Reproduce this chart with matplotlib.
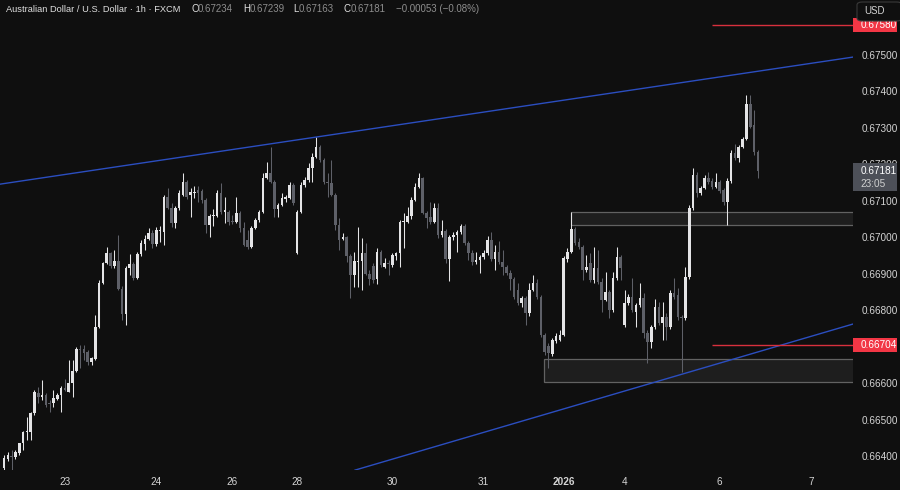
import matplotlib
matplotlib.use("Agg")
import numpy as np
import matplotlib.pyplot as plt
from matplotlib.patches import Rectangle, FancyBboxPatch

# AUD/USD 1h candles
opens = [
    0.66367, 0.66392, 0.66400, 0.66397, 0.66408, 0.66436, 0.66466, 0.66466, 0.66518, 0.66572,
    0.66562, 0.66567, 0.66545, 0.66545, 0.66556, 0.66567, 0.66586, 0.66575, 0.66600, 0.66633,
    0.66693, 0.66693, 0.66685, 0.66657, 0.66666, 0.66753, 0.66874, 0.66929, 0.66956, 0.66920,
    0.66934, 0.66858, 0.66789, 0.66915, 0.66926, 0.66888, 0.66953, 0.66981, 0.66994, 0.67011,
    0.66981, 0.67016, 0.67014, 0.67109, 0.67079, 0.67038, 0.67079, 0.67115, 0.67151, 0.67115,
    0.67120, 0.67129, 0.67126, 0.67101, 0.67033, 0.67058, 0.67058, 0.67120, 0.67068, 0.67068,
    0.67044, 0.67041, 0.67066, 0.67025, 0.66992, 0.66973, 0.67025, 0.67047, 0.67068, 0.67162,
    0.67175, 0.67151, 0.67077, 0.67088, 0.67104, 0.67107, 0.67142, 0.66956, 0.67068, 0.67142,
    0.67156, 0.67189, 0.67219, 0.67247, 0.67211, 0.67151, 0.67148, 0.67115, 0.67033, 0.66994,
    0.67000, 0.66948, 0.66896, 0.66931, 0.66934, 0.66956, 0.66899, 0.66920, 0.66885, 0.66959,
    0.66918, 0.66929, 0.66923, 0.66948, 0.66956, 0.67041, 0.67041, 0.67058, 0.67101, 0.67137,
    0.67162, 0.67066, 0.67055, 0.67041, 0.67079, 0.67005, 0.67016, 0.66940, 0.67000, 0.67005,
    0.67014, 0.67030, 0.66984, 0.66956, 0.66931, 0.66937, 0.66945, 0.66956, 0.66992, 0.66940,
    0.66959, 0.66931, 0.66918, 0.66901, 0.66885, 0.66855, 0.66819, 0.66833, 0.66792, 0.66855,
    0.66874, 0.66836, 0.66731, 0.66701, 0.66679, 0.66715, 0.66718, 0.66731, 0.66940, 0.66959,
    0.67022, 0.66986, 0.66973, 0.66910, 0.66929, 0.66882, 0.66915, 0.66877, 0.66827, 0.66849,
    0.66800, 0.66888, 0.66945, 0.66759, 0.66819, 0.66836, 0.66794, 0.66814, 0.66833, 0.66737,
    0.66712, 0.66753, 0.66808, 0.66764, 0.66781, 0.66753, 0.66847, 0.66841, 0.66781, 0.66778,
    0.66890, 0.67079, 0.67170, 0.67120, 0.67134, 0.67162, 0.67153, 0.67137, 0.67151, 0.67129,
    0.67096, 0.67153, 0.67230, 0.67216, 0.67247, 0.67268, 0.67364, 0.67307, 0.67234,
]
highs = [
    0.66403, 0.66411, 0.66416, 0.66416, 0.66436, 0.66468, 0.66507, 0.66521, 0.66581, 0.66589,
    0.66608, 0.66572, 0.66553, 0.66581, 0.66572, 0.66592, 0.66611, 0.66663, 0.66663, 0.66699,
    0.66704, 0.66704, 0.66690, 0.66671, 0.66786, 0.66882, 0.66931, 0.66973, 0.66959, 0.66964,
    0.67005, 0.66866, 0.66920, 0.66953, 0.66931, 0.66959, 0.66992, 0.67005, 0.67025, 0.67019,
    0.67027, 0.67030, 0.67115, 0.67134, 0.67093, 0.67085, 0.67129, 0.67175, 0.67156, 0.67134,
    0.67140, 0.67140, 0.67131, 0.67107, 0.67063, 0.67077, 0.67129, 0.67148, 0.67109, 0.67074,
    0.67060, 0.67109, 0.67071, 0.67041, 0.67019, 0.67030, 0.67052, 0.67074, 0.67175, 0.67205,
    0.67247, 0.67156, 0.67093, 0.67120, 0.67115, 0.67151, 0.67148, 0.67074, 0.67151, 0.67164,
    0.67203, 0.67230, 0.67274, 0.67252, 0.67216, 0.67175, 0.67211, 0.67120, 0.67052, 0.67011,
    0.67003, 0.66953, 0.66959, 0.67027, 0.66997, 0.66984, 0.66910, 0.66929, 0.66970, 0.66964,
    0.66942, 0.66937, 0.66956, 0.66959, 0.67047, 0.67066, 0.67082, 0.67109, 0.67148, 0.67175,
    0.67164, 0.67071, 0.67096, 0.67093, 0.67093, 0.67047, 0.67022, 0.67005, 0.67014, 0.67019,
    0.67036, 0.67036, 0.66989, 0.66964, 0.66959, 0.66951, 0.66964, 0.67003, 0.67014, 0.66978,
    0.66989, 0.66964, 0.66923, 0.66910, 0.66890, 0.66874, 0.66838, 0.66838, 0.66874, 0.66896,
    0.66885, 0.66841, 0.66737, 0.66710, 0.66723, 0.66737, 0.66745, 0.66948, 0.66970, 0.67068,
    0.67027, 0.66997, 0.66978, 0.66951, 0.66956, 0.66973, 0.66964, 0.66888, 0.66904, 0.66855,
    0.66904, 0.66973, 0.66951, 0.66855, 0.66844, 0.66888, 0.66819, 0.66874, 0.66847, 0.66745,
    0.66759, 0.66830, 0.66822, 0.66822, 0.66792, 0.66855, 0.66888, 0.66860, 0.66786, 0.66918,
    0.67088, 0.67189, 0.67178, 0.67140, 0.67170, 0.67178, 0.67162, 0.67175, 0.67156, 0.67134,
    0.67162, 0.67238, 0.67255, 0.67252, 0.67274, 0.67389, 0.67389, 0.67348, 0.67239,
]
lows = [
    0.66362, 0.66386, 0.66362, 0.66392, 0.66403, 0.66416, 0.66444, 0.66444, 0.66512, 0.66545,
    0.66553, 0.66534, 0.66521, 0.66534, 0.66553, 0.66521, 0.66578, 0.66575, 0.66562, 0.66630,
    0.66641, 0.66663, 0.66649, 0.66649, 0.66663, 0.66751, 0.66871, 0.66926, 0.66915, 0.66915,
    0.66855, 0.66772, 0.66759, 0.66896, 0.66882, 0.66885, 0.66948, 0.66964, 0.66992, 0.66970,
    0.66975, 0.66986, 0.66978, 0.67077, 0.67027, 0.67025, 0.67074, 0.67112, 0.67104, 0.67055,
    0.67107, 0.67096, 0.67093, 0.67011, 0.67000, 0.67030, 0.67055, 0.67063, 0.67038, 0.67033,
    0.67036, 0.67038, 0.67014, 0.66975, 0.66967, 0.66970, 0.67022, 0.67041, 0.67066, 0.67159,
    0.67148, 0.67055, 0.67055, 0.67085, 0.67096, 0.67104, 0.67088, 0.66953, 0.67066, 0.67137,
    0.67151, 0.67151, 0.67216, 0.67205, 0.67145, 0.67109, 0.67112, 0.67019, 0.66964, 0.66992,
    0.66931, 0.66833, 0.66863, 0.66863, 0.66855, 0.66896, 0.66868, 0.66874, 0.66871, 0.66918,
    0.66915, 0.66896, 0.66918, 0.66937, 0.66918, 0.66970, 0.67038, 0.67049, 0.67099, 0.67134,
    0.67063, 0.67025, 0.67036, 0.67038, 0.66997, 0.67000, 0.66929, 0.66879, 0.66992, 0.66959,
    0.67008, 0.66978, 0.66937, 0.66923, 0.66926, 0.66901, 0.66940, 0.66951, 0.66934, 0.66910,
    0.66926, 0.66896, 0.66896, 0.66855, 0.66830, 0.66814, 0.66808, 0.66759, 0.66784, 0.66852,
    0.66830, 0.66726, 0.66677, 0.66641, 0.66674, 0.66710, 0.66715, 0.66729, 0.66931, 0.66956,
    0.66978, 0.66967, 0.66882, 0.66904, 0.66877, 0.66874, 0.66871, 0.66794, 0.66825, 0.66778,
    0.66794, 0.66882, 0.66882, 0.66753, 0.66814, 0.66794, 0.66753, 0.66808, 0.66723, 0.66655,
    0.66696, 0.66748, 0.66759, 0.66718, 0.66718, 0.66748, 0.66830, 0.66772, 0.66630, 0.66772,
    0.66885, 0.67074, 0.67109, 0.67115, 0.67131, 0.67145, 0.67131, 0.67134, 0.67120, 0.67088,
    0.67033, 0.67148, 0.67211, 0.67205, 0.67244, 0.67266, 0.67299, 0.67225, 0.67163,
]
closes = [
    0.66395, 0.66403, 0.66397, 0.66411, 0.66436, 0.66466, 0.66468, 0.66518, 0.66575, 0.66562,
    0.66567, 0.66540, 0.66542, 0.66559, 0.66567, 0.66586, 0.66581, 0.66600, 0.66633, 0.66693,
    0.66690, 0.66682, 0.66657, 0.66668, 0.66753, 0.66874, 0.66929, 0.66956, 0.66920, 0.66934,
    0.66858, 0.66789, 0.66915, 0.66926, 0.66888, 0.66953, 0.66984, 0.66994, 0.67011, 0.66981,
    0.67019, 0.67019, 0.67109, 0.67079, 0.67038, 0.67079, 0.67120, 0.67151, 0.67109, 0.67123,
    0.67123, 0.67120, 0.67101, 0.67033, 0.67058, 0.67060, 0.67120, 0.67068, 0.67074, 0.67041,
    0.67041, 0.67066, 0.67025, 0.66978, 0.66973, 0.67025, 0.67047, 0.67068, 0.67162, 0.67175,
    0.67151, 0.67077, 0.67088, 0.67107, 0.67109, 0.67142, 0.67093, 0.67068, 0.67142, 0.67156,
    0.67189, 0.67219, 0.67247, 0.67211, 0.67151, 0.67148, 0.67115, 0.67033, 0.66992, 0.67000,
    0.66948, 0.66896, 0.66934, 0.66934, 0.66956, 0.66899, 0.66885, 0.66882, 0.66959, 0.66923,
    0.66929, 0.66926, 0.66951, 0.66956, 0.67041, 0.67044, 0.67058, 0.67101, 0.67137, 0.67162,
    0.67066, 0.67052, 0.67041, 0.67079, 0.67005, 0.67016, 0.66940, 0.67000, 0.67005, 0.67014,
    0.67030, 0.66984, 0.66956, 0.66931, 0.66937, 0.66945, 0.66956, 0.66992, 0.66940, 0.66959,
    0.66931, 0.66918, 0.66901, 0.66885, 0.66836, 0.66819, 0.66833, 0.66792, 0.66855, 0.66874,
    0.66836, 0.66731, 0.66685, 0.66682, 0.66718, 0.66729, 0.66731, 0.66942, 0.66959, 0.67022,
    0.66984, 0.66973, 0.66910, 0.66918, 0.66882, 0.66915, 0.66877, 0.66827, 0.66849, 0.66800,
    0.66888, 0.66945, 0.66915, 0.66819, 0.66836, 0.66800, 0.66814, 0.66833, 0.66737, 0.66712,
    0.66753, 0.66808, 0.66764, 0.66781, 0.66753, 0.66847, 0.66836, 0.66781, 0.66778, 0.66890,
    0.67079, 0.67170, 0.67120, 0.67134, 0.67162, 0.67151, 0.67137, 0.67151, 0.67126, 0.67096,
    0.67153, 0.67230, 0.67216, 0.67247, 0.67268, 0.67364, 0.67301, 0.67233, 0.67181,
]

# date labels (bar index where each day starts)
day_pos = [16, 40, 60, 77, 102, 126, 147, 163, 188, 212]
day_labels = ["23", "24", "26", "28", "30", "31", "2026", "4", "6", "7"]

# 0.66700 sits under the red level label, so it is not shown
price_ticks = [0.664, 0.665, 0.666, 0.668, 0.669, 0.670, 0.671, 0.672, 0.673, 0.674, 0.675]

# drawings: trend lines, zones, levels
upper_line_x = [-1.05, 223.0]
upper_line_y = [0.67145, 0.67493]
lower_line_x = [92.2, 223.0]
lower_line_y = [0.66362, 0.66762]
zone_start = [148.9, 141.8]
zone_low = [0.67034, 0.66603]
zone_high = [0.67069, 0.66666]
level_start = 186
levels = [0.67580, 0.66704]

last_close = 0.67181
countdown = "23:05"

BG = "#0f0f0f"
UP = "#e4e4e6"
DOWN = "#5e6068"
TXT = "#d4d4d4"
RED = "#f23645"

plt.rcParams["font.family"] = ["Liberation Sans", "DejaVu Sans"]

W, H = 900, 490
fig = plt.figure(figsize=(W / 100, H / 100), dpi=100, facecolor=BG)
ax = fig.add_axes([0, 20 / H, 853 / W, 470 / H])
ax.set_facecolor(BG)
for s in ax.spines.values():
    s.set_visible(False)

ax.set_xlim(-1.05, 223.0)
ax.set_ylim(0.663623, 0.676493)

# candles
o = np.array(opens)
h = np.array(highs)
l = np.array(lows)
c = np.array(closes)
x = np.arange(len(c))
cols = [UP if cc >= oo else DOWN for oo, cc in zip(o, c)]
ax.vlines(x, l, h, colors=cols, lw=0.75, zorder=3)
body = np.maximum(np.abs(c - o), 0.00003)
ax.bar(x, body, bottom=np.minimum(o, c), width=0.68, color=cols, linewidth=0, zorder=4)

# zones
for xs, lo, hi in zip(zone_start, zone_low, zone_high):
    ax.add_patch(Rectangle((xs, lo), 300, hi - lo, facecolor="#1e1e1e", edgecolor="#626262",
                           lw=0.9, zorder=2))

# trend lines and levels
ax.plot(upper_line_x, upper_line_y, color="#2b4ec0", lw=1.0, zorder=5)
ax.plot(lower_line_x, lower_line_y, color="#2b4ec0", lw=1.0, zorder=5)
for lv in levels:
    ax.hlines(lv, level_start, 223, color="#d8303d", lw=1.0, zorder=5)

# axes
ax.yaxis.tick_right()
ax.set_yticks(price_ticks)
ax.set_yticklabels([f"{v:.5f}" for v in price_ticks])
ax.tick_params(axis="y", length=0, pad=6, labelsize=7.2, labelcolor=TXT)
ax.set_xticks(day_pos)
ax.set_xticklabels(day_labels)
ax.tick_params(axis="x", length=0, pad=5, labelsize=7.2, labelcolor=TXT)
for lab in ax.get_xticklabels():
    if lab.get_text() == "2026":
        lab.set_fontweight("bold")

# price-scale labels
yt = ax.get_yaxis_transform()
bh = 0.00038
for lv in levels:
    ax.add_patch(Rectangle((1.0, lv - bh / 2), 0.052, bh, transform=yt, facecolor=RED,
                           edgecolor="none", clip_on=False, zorder=6))
    ax.text(1.0085, lv, f"{lv:.5f}", transform=yt, color="white", fontsize=7.2,
            va="center", ha="left", zorder=7, clip_on=False)
ax.add_patch(Rectangle((1.0, last_close - 0.00055), 0.052, 0.00077, transform=yt,
                       facecolor="#4d5058", edgecolor="none", clip_on=False, zorder=6))
ax.text(1.0085, last_close, f"{last_close:.5f}", transform=yt, color="white", fontsize=7.2,
        va="center", ha="left", zorder=7, clip_on=False)
ax.text(1.0085, last_close - 0.00036, countdown, transform=yt, color="#d0d0d0", fontsize=7.2,
        va="center", ha="left", zorder=7, clip_on=False)

# USD button
fig.patches.append(FancyBboxPatch((857 / W, 1 - 21 / H), 45 / W, 19 / H,
                                  boxstyle="round,pad=0,rounding_size=0.006",
                                  transform=fig.transFigure, facecolor=BG,
                                  edgecolor="#3a3a3a", lw=0.8))
fig.text(864 / W, 1 - 11 / H, "USD", color=TXT, fontsize=7, va="center", ha="left")

# header
ty = 1 - 9.5 / H
fig.text(6 / W, ty, "Australian Dollar / U.S. Dollar · 1h · FXCM", color="#e0e0e0",
         fontsize=6.7, va="center", ha="left")
parts = [(191, "O", "0.67234", 198), (243, "H", "0.67239", 250),
         (293, "L", "0.67163", 299), (344, "C", "0.67181", 351)]
VAL = "#8e8e8e"
for lx, letter, val, vx in parts:
    fig.text(lx / W, ty, letter, color="#e0e0e0", fontsize=7.0, va="center", ha="left")
    fig.text(vx / W, ty, val, color=VAL, fontsize=7.0, va="center", ha="left")
fig.text(396 / W, ty, "\u22120.00053 (\u22120.08%)", color=VAL, fontsize=7.0, va="center", ha="left")

fig.savefig("out.png", dpi=100, facecolor=BG)
